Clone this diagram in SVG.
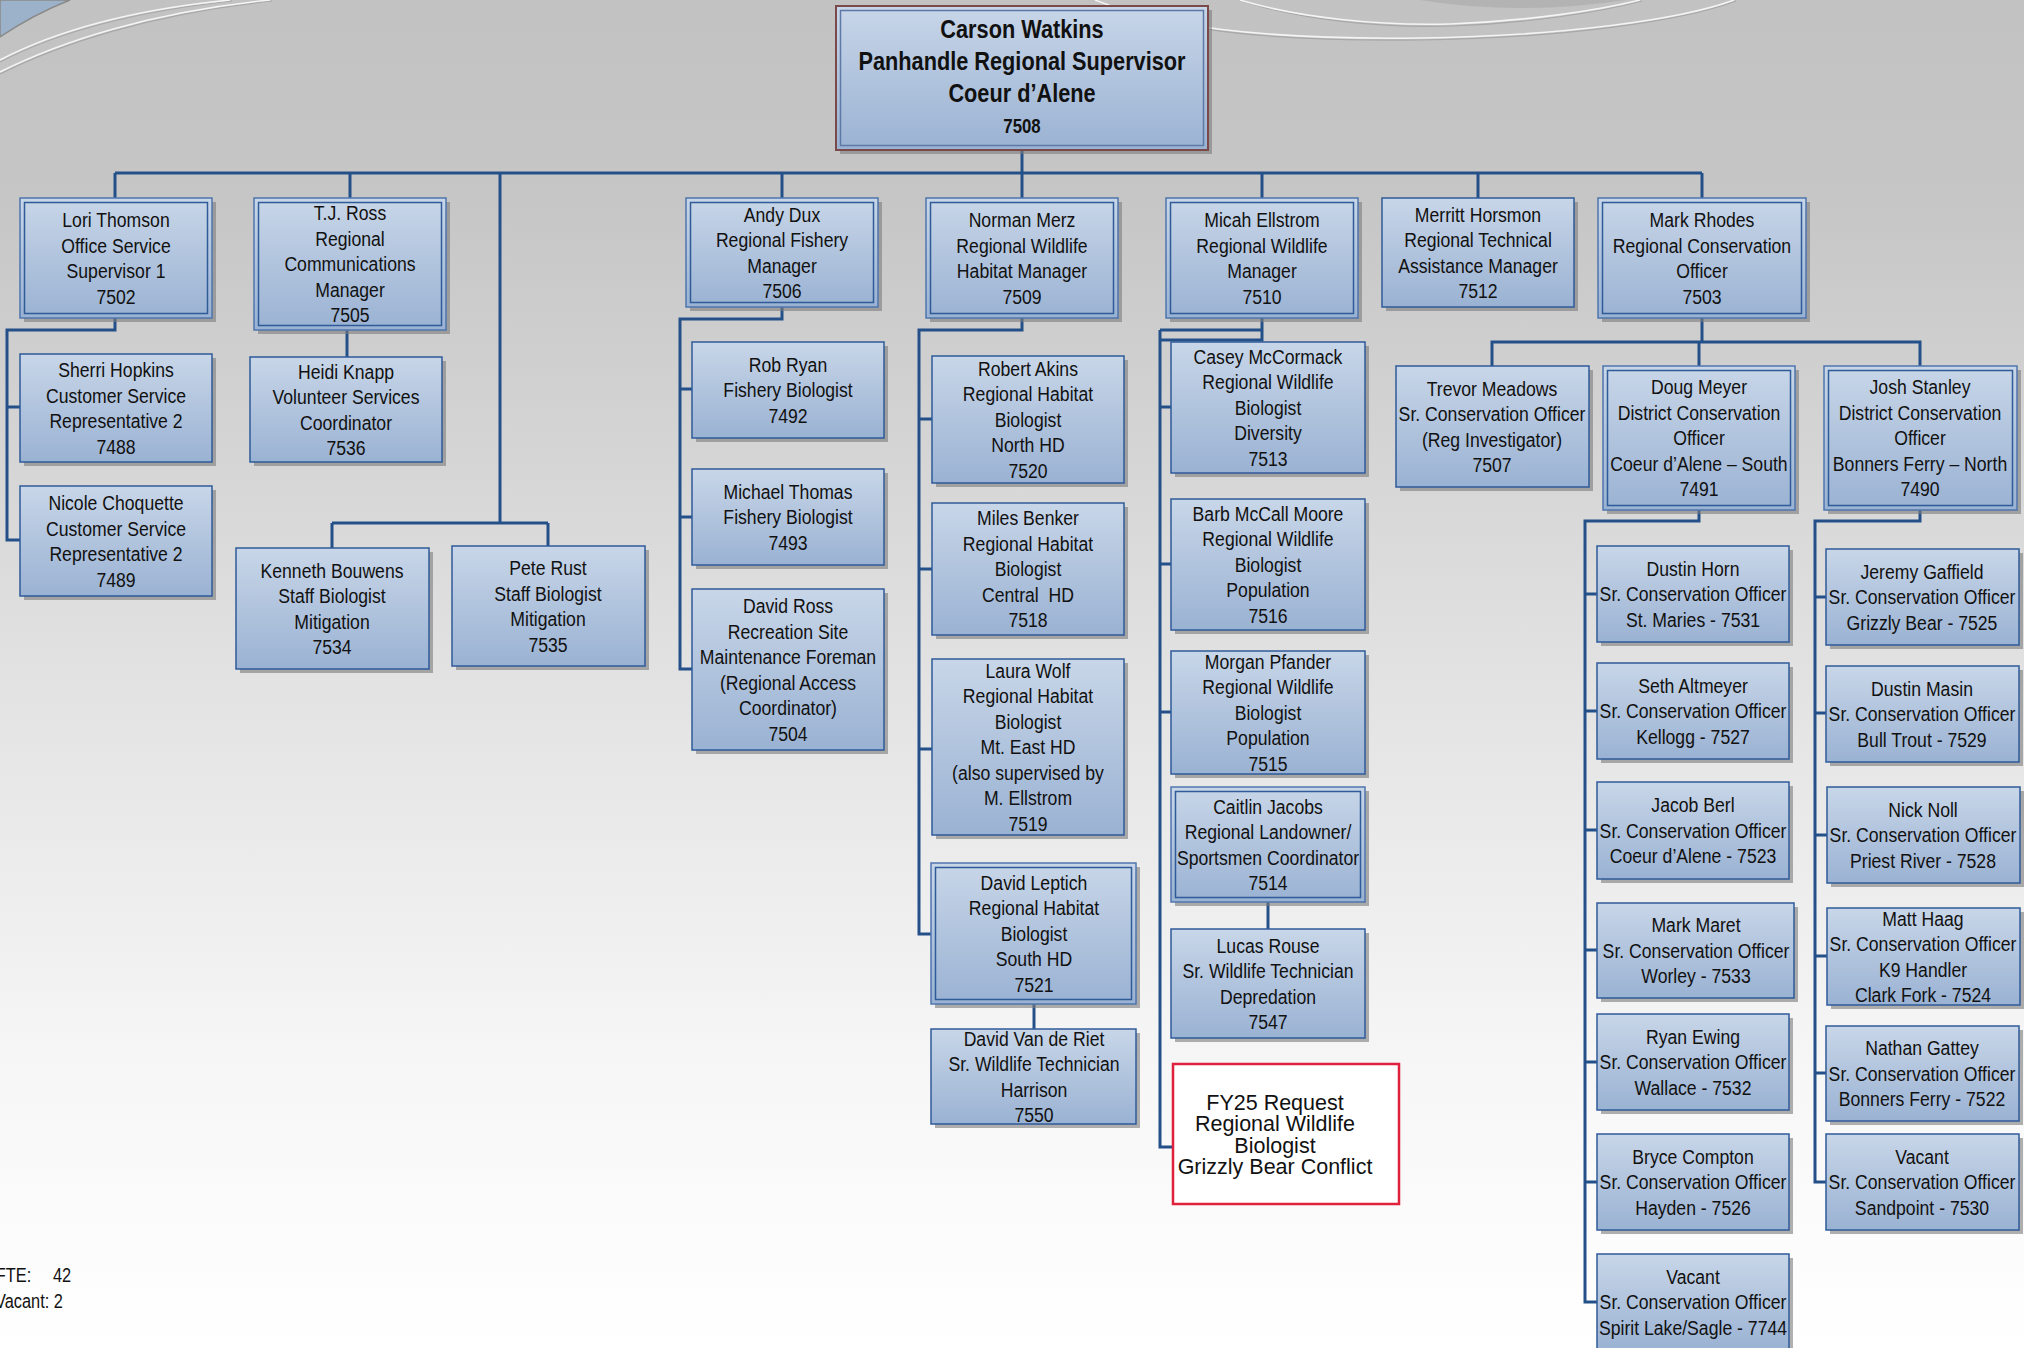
<svg xmlns="http://www.w3.org/2000/svg" width="2024" height="1348" viewBox="0 0 2024 1348">
<defs>
<linearGradient id="bg" x1="0" y1="0" x2="0" y2="1">
<stop offset="0" stop-color="#c2c2c2"/>
<stop offset="0.15" stop-color="#c6c6c6"/>
<stop offset="0.5" stop-color="#e2e2e2"/>
<stop offset="0.8" stop-color="#f7f7f7"/>
<stop offset="1" stop-color="#ffffff"/>
</linearGradient>
<linearGradient id="bf" x1="0" y1="0" x2="0" y2="1">
<stop offset="0" stop-color="#c8d6e8"/>
<stop offset="1" stop-color="#9ab2d3"/>
</linearGradient>
<style>
.sh{fill:#7c7c7c;opacity:.6}
.bx{fill:url(#bf);stroke:#2f5b99;stroke-width:1.5}
.bo{fill:url(#bf);stroke:#4f76ad;stroke-width:1.5}
.bi{fill:none;stroke:#2f5b99;stroke-width:1.5}
.t{font-family:"Liberation Sans",Arial,sans-serif;font-size:21px;text-anchor:middle;fill:#111}
.tb{font-family:"Liberation Sans",Arial,sans-serif;font-weight:bold;text-anchor:middle;fill:#111}
.tr{font-family:"Liberation Sans",Arial,sans-serif;font-size:21.5px;text-anchor:middle;fill:#111}
.c{fill:none;stroke:#24508a;stroke-width:3}
.dec{fill:none;stroke:#f4f4f4;stroke-width:1.6}
.decg{fill:none;stroke:#a8a8a8;stroke-width:1.2}
</style>
</defs>
<rect width="2024" height="1348" fill="url(#bg)"/>
<g id="decor">
<path d="M0,0 H70 Q34,14 0,37 Z" fill="#9cb1ca" stroke="#8a8a8a" stroke-width="1.5"/>
<path class="decg" d="M0,74 C60,44 150,14 272,1"/>
<path class="dec" d="M0,72 C60,42 150,12 270,0"/>
<path class="decg" d="M0,62 C50,36 120,13 232,1"/>
<path class="dec" d="M0,60 C50,34 120,11 230,0"/>
<path class="decg" d="M1097,1 C1160,28 1260,42 1420,40 C1560,38 1680,22 1736,1"/>
<path class="dec" d="M1095,0 C1160,26 1260,40 1420,38 C1560,36 1680,20 1734,0"/>
<path class="decg" d="M1242,1 C1300,20 1380,28 1452,26 C1532,23 1600,12 1642,1"/>
<path class="dec" d="M1240,0 C1300,18 1380,26 1450,24 C1530,21 1600,10 1640,0"/>
<path d="M1420,0 Q1520,16 1626,0 Z" fill="#a9a9a9" opacity=".6"/>
</g>
<g id="connectors">
<path class="c" d="M115,173 H1702"/>
<path class="c" d="M1022,150 V198"/>
<path class="c" d="M115,173 V198 M350,173 V198 M782,173 V198 M1262,173 V198 M1478,173 V198 M1702,173 V198"/>
<path class="c" d="M500,173 V523 M332,523 H548 M332,523 V548 M548,523 V546"/>
<path class="c" d="M115,318 V330 H7 V540 H20 M7,407 H20"/>
<path class="c" d="M347,330 V357"/>
<path class="c" d="M782,307 V319 H680 V669 H692 M680,389 H692 M680,517 H692"/>
<path class="c" d="M1022,318 V330 H919 V934 H931 M919,419 H932 M919,569 H932 M919,749 H932"/>
<path class="c" d="M1034,1004 V1029"/>
<path class="c" d="M1262,318 V340 H1160 M1262,330 H1160 M1160,330 V1147 H1173 M1160,407 H1171 M1160,564 H1171 M1160,712 H1171"/>
<path class="c" d="M1268,902 V929"/>
<path class="c" d="M1702,318 V342 M1492,366 V342 H1920 V366 M1699,342 V366"/>
<path class="c" d="M1699,510 V521 H1585 V1302 H1597 M1585,594 H1597 M1585,711 H1597 M1585,830 H1597 M1585,950 H1597 M1585,1062 H1597 M1585,1182 H1597"/>
<path class="c" d="M1920,510 V521 H1815 V1182 H1826 M1815,597 H1826 M1815,713 H1826 M1815,835 H1827 M1815,956 H1827 M1815,1073 H1826"/>
</g>
<g id="n-carson">
<rect class="sh" x="840" y="10" width="372" height="144"/>
<rect x="836" y="6" width="372" height="144" fill="url(#bf)" stroke="#7a4a4a" stroke-width="2"/>
<rect x="840.5" y="10.5" width="363" height="135" fill="none" stroke="#5d7aa6" stroke-width="1.5"/>
<g transform="translate(1022 0) scale(.82 1)">
<text class="tb" style="font-size:26.5px" x="0" y="38">Carson Watkins</text>
<text class="tb" style="font-size:26.5px" x="0" y="70">Panhandle Regional Supervisor</text>
<text class="tb" style="font-size:26.5px" x="0" y="102">Coeur d’Alene</text>
<text class="tb" style="font-size:20.5px" x="0" y="133">7508</text>
</g>
</g>
<g id="n-lori">
<rect class="sh" x="24" y="202" width="192" height="120"/>
<rect class="bo" x="20" y="198" width="192" height="120"/>
<rect class="bi" x="24.5" y="202.5" width="183" height="111"/>
<text class="t" transform="translate(116 0) scale(.84 1)" y="227.25"><tspan x="0">Lori Thomson</tspan><tspan x="0" dy="25.5">Office Service</tspan><tspan x="0" dy="25.5">Supervisor 1</tspan><tspan x="0" dy="25.5">7502</tspan></text>
</g>
<g id="n-tjross">
<rect class="sh" x="258" y="202" width="192" height="132"/>
<rect class="bo" x="254" y="198" width="192" height="132"/>
<rect class="bi" x="258.5" y="202.5" width="183" height="123"/>
<text class="t" transform="translate(350 0) scale(.84 1)" y="220.5"><tspan x="0">T.J. Ross</tspan><tspan x="0" dy="25.5">Regional</tspan><tspan x="0" dy="25.5">Communications</tspan><tspan x="0" dy="25.5">Manager</tspan><tspan x="0" dy="25.5">7505</tspan></text>
</g>
<g id="n-sherri">
<rect class="sh" x="24" y="358" width="192" height="108"/>
<rect class="bx" x="20" y="354" width="192" height="108"/>
<text class="t" transform="translate(116 0) scale(.84 1)" y="377.25"><tspan x="0">Sherri Hopkins</tspan><tspan x="0" dy="25.5">Customer Service</tspan><tspan x="0" dy="25.5">Representative 2</tspan><tspan x="0" dy="25.5">7488</tspan></text>
</g>
<g id="n-heidi">
<rect class="sh" x="254" y="361" width="192" height="105"/>
<rect class="bx" x="250" y="357" width="192" height="105"/>
<text class="t" transform="translate(346 0) scale(.84 1)" y="378.75"><tspan x="0">Heidi Knapp</tspan><tspan x="0" dy="25.5">Volunteer Services</tspan><tspan x="0" dy="25.5">Coordinator</tspan><tspan x="0" dy="25.5">7536</tspan></text>
</g>
<g id="n-nicole">
<rect class="sh" x="24" y="490" width="192" height="110"/>
<rect class="bx" x="20" y="486" width="192" height="110"/>
<text class="t" transform="translate(116 0) scale(.84 1)" y="510.25"><tspan x="0">Nicole Choquette</tspan><tspan x="0" dy="25.5">Customer Service</tspan><tspan x="0" dy="25.5">Representative 2</tspan><tspan x="0" dy="25.5">7489</tspan></text>
</g>
<g id="n-kenneth">
<rect class="sh" x="240" y="552" width="193" height="121"/>
<rect class="bx" x="236" y="548" width="193" height="121"/>
<text class="t" transform="translate(332 0) scale(.84 1)" y="577.75"><tspan x="0">Kenneth Bouwens</tspan><tspan x="0" dy="25.5">Staff Biologist</tspan><tspan x="0" dy="25.5">Mitigation</tspan><tspan x="0" dy="25.5">7534</tspan></text>
</g>
<g id="n-pete">
<rect class="sh" x="456" y="550" width="193" height="120"/>
<rect class="bx" x="452" y="546" width="193" height="120"/>
<text class="t" transform="translate(548 0) scale(.84 1)" y="575.25"><tspan x="0">Pete Rust</tspan><tspan x="0" dy="25.5">Staff Biologist</tspan><tspan x="0" dy="25.5">Mitigation</tspan><tspan x="0" dy="25.5">7535</tspan></text>
</g>
<g id="n-andy">
<rect class="sh" x="690" y="202" width="192" height="109"/>
<rect class="bo" x="686" y="198" width="192" height="109"/>
<rect class="bi" x="690.5" y="202.5" width="183" height="100"/>
<text class="t" transform="translate(782 0) scale(.84 1)" y="221.75"><tspan x="0">Andy Dux</tspan><tspan x="0" dy="25.5">Regional Fishery</tspan><tspan x="0" dy="25.5">Manager</tspan><tspan x="0" dy="25.5">7506</tspan></text>
</g>
<g id="n-norman">
<rect class="sh" x="930" y="202" width="192" height="120"/>
<rect class="bo" x="926" y="198" width="192" height="120"/>
<rect class="bi" x="930.5" y="202.5" width="183" height="111"/>
<text class="t" transform="translate(1022 0) scale(.84 1)" y="227.25"><tspan x="0">Norman Merz</tspan><tspan x="0" dy="25.5">Regional Wildlife</tspan><tspan x="0" dy="25.5">Habitat Manager</tspan><tspan x="0" dy="25.5">7509</tspan></text>
</g>
<g id="n-micah">
<rect class="sh" x="1170" y="202" width="192" height="120"/>
<rect class="bo" x="1166" y="198" width="192" height="120"/>
<rect class="bi" x="1170.5" y="202.5" width="183" height="111"/>
<text class="t" transform="translate(1262 0) scale(.84 1)" y="227.25"><tspan x="0">Micah Ellstrom</tspan><tspan x="0" dy="25.5">Regional Wildlife</tspan><tspan x="0" dy="25.5">Manager</tspan><tspan x="0" dy="25.5">7510</tspan></text>
</g>
<g id="n-merritt">
<rect class="sh" x="1386" y="202" width="192" height="109"/>
<rect class="bx" x="1382" y="198" width="192" height="109"/>
<text class="t" transform="translate(1478 0) scale(.84 1)" y="221.75"><tspan x="0">Merritt Horsmon</tspan><tspan x="0" dy="25.5">Regional Technical</tspan><tspan x="0" dy="25.5">Assistance Manager</tspan><tspan x="0" dy="25.5">7512</tspan></text>
</g>
<g id="n-mark">
<rect class="sh" x="1602" y="202" width="208" height="120"/>
<rect class="bo" x="1598" y="198" width="208" height="120"/>
<rect class="bi" x="1602.5" y="202.5" width="199" height="111"/>
<text class="t" transform="translate(1702 0) scale(.84 1)" y="227.25"><tspan x="0">Mark Rhodes</tspan><tspan x="0" dy="25.5">Regional Conservation</tspan><tspan x="0" dy="25.5">Officer</tspan><tspan x="0" dy="25.5">7503</tspan></text>
</g>
<g id="n-trevor">
<rect class="sh" x="1400" y="370" width="193" height="121"/>
<rect class="bx" x="1396" y="366" width="193" height="121"/>
<text class="t" transform="translate(1492 0) scale(.84 1)" y="395.75"><tspan x="0">Trevor Meadows</tspan><tspan x="0" dy="25.5">Sr. Conservation Officer</tspan><tspan x="0" dy="25.5">(Reg Investigator)</tspan><tspan x="0" dy="25.5">7507</tspan></text>
</g>
<g id="n-doug">
<rect class="sh" x="1607" y="370" width="192" height="144"/>
<rect class="bo" x="1603" y="366" width="192" height="144"/>
<rect class="bi" x="1607.5" y="370.5" width="183" height="135"/>
<text class="t" transform="translate(1699 0) scale(.84 1)" y="394.5"><tspan x="0">Doug Meyer</tspan><tspan x="0" dy="25.5">District Conservation</tspan><tspan x="0" dy="25.5">Officer</tspan><tspan x="0" dy="25.5">Coeur d’Alene – South</tspan><tspan x="0" dy="25.5">7491</tspan></text>
</g>
<g id="n-josh">
<rect class="sh" x="1828" y="370" width="193" height="144"/>
<rect class="bo" x="1824" y="366" width="193" height="144"/>
<rect class="bi" x="1828.5" y="370.5" width="184" height="135"/>
<text class="t" transform="translate(1920 0) scale(.84 1)" y="394.5"><tspan x="0">Josh Stanley</tspan><tspan x="0" dy="25.5">District Conservation</tspan><tspan x="0" dy="25.5">Officer</tspan><tspan x="0" dy="25.5">Bonners Ferry – North</tspan><tspan x="0" dy="25.5">7490</tspan></text>
</g>
<g id="n-rob">
<rect class="sh" x="696" y="346" width="192" height="96"/>
<rect class="bx" x="692" y="342" width="192" height="96"/>
<text class="t" transform="translate(788 0) scale(.84 1)" y="372"><tspan x="0">Rob Ryan</tspan><tspan x="0" dy="25.5">Fishery Biologist</tspan><tspan x="0" dy="25.5">7492</tspan></text>
</g>
<g id="n-michael">
<rect class="sh" x="696" y="473" width="192" height="96"/>
<rect class="bx" x="692" y="469" width="192" height="96"/>
<text class="t" transform="translate(788 0) scale(.84 1)" y="499"><tspan x="0">Michael Thomas</tspan><tspan x="0" dy="25.5">Fishery Biologist</tspan><tspan x="0" dy="25.5">7493</tspan></text>
</g>
<g id="n-davidross">
<rect class="sh" x="696" y="593" width="192" height="161"/>
<rect class="bx" x="692" y="589" width="192" height="161"/>
<text class="t" transform="translate(788 0) scale(.84 1)" y="613.25"><tspan x="0">David Ross</tspan><tspan x="0" dy="25.5">Recreation Site</tspan><tspan x="0" dy="25.5">Maintenance Foreman</tspan><tspan x="0" dy="25.5">(Regional Access</tspan><tspan x="0" dy="25.5">Coordinator)</tspan><tspan x="0" dy="25.5">7504</tspan></text>
</g>
<g id="n-robert">
<rect class="sh" x="936" y="360" width="192" height="127"/>
<rect class="bx" x="932" y="356" width="192" height="127"/>
<text class="t" transform="translate(1028 0) scale(.84 1)" y="376"><tspan x="0">Robert Akins</tspan><tspan x="0" dy="25.5">Regional Habitat</tspan><tspan x="0" dy="25.5">Biologist</tspan><tspan x="0" dy="25.5">North HD</tspan><tspan x="0" dy="25.5">7520</tspan></text>
</g>
<g id="n-miles">
<rect class="sh" x="936" y="507" width="192" height="132"/>
<rect class="bx" x="932" y="503" width="192" height="132"/>
<text class="t" transform="translate(1028 0) scale(.84 1)" y="525.5"><tspan x="0">Miles Benker</tspan><tspan x="0" dy="25.5">Regional Habitat</tspan><tspan x="0" dy="25.5">Biologist</tspan><tspan x="0" dy="25.5" xml:space="preserve">Central  HD</tspan><tspan x="0" dy="25.5">7518</tspan></text>
</g>
<g id="n-laura">
<rect class="sh" x="936" y="663" width="192" height="176"/>
<rect class="bx" x="932" y="659" width="192" height="176"/>
<text class="t" transform="translate(1028 0) scale(.84 1)" y="678"><tspan x="0">Laura Wolf</tspan><tspan x="0" dy="25.5">Regional Habitat</tspan><tspan x="0" dy="25.5">Biologist</tspan><tspan x="0" dy="25.5">Mt. East HD</tspan><tspan x="0" dy="25.5">(also supervised by</tspan><tspan x="0" dy="25.5">M. Ellstrom</tspan><tspan x="0" dy="25.5">7519</tspan></text>
</g>
<g id="n-leptich">
<rect class="sh" x="935" y="867" width="205" height="141"/>
<rect class="bo" x="931" y="863" width="205" height="141"/>
<rect class="bi" x="935.5" y="867.5" width="196" height="132"/>
<text class="t" transform="translate(1034 0) scale(.84 1)" y="890"><tspan x="0">David Leptich</tspan><tspan x="0" dy="25.5">Regional Habitat</tspan><tspan x="0" dy="25.5">Biologist</tspan><tspan x="0" dy="25.5">South HD</tspan><tspan x="0" dy="25.5">7521</tspan></text>
</g>
<g id="n-vanderiet">
<rect class="sh" x="935" y="1033" width="205" height="95"/>
<rect class="bx" x="931" y="1029" width="205" height="95"/>
<text class="t" transform="translate(1034 0) scale(.84 1)" y="1045.75"><tspan x="0">David Van de Riet</tspan><tspan x="0" dy="25.5">Sr. Wildlife Technician</tspan><tspan x="0" dy="25.5">Harrison</tspan><tspan x="0" dy="25.5">7550</tspan></text>
</g>
<g id="n-casey">
<rect class="sh" x="1175" y="346" width="194" height="131"/>
<rect class="bx" x="1171" y="342" width="194" height="131"/>
<text class="t" transform="translate(1268 0) scale(.84 1)" y="364"><tspan x="0">Casey McCormack</tspan><tspan x="0" dy="25.5">Regional Wildlife</tspan><tspan x="0" dy="25.5">Biologist</tspan><tspan x="0" dy="25.5">Diversity</tspan><tspan x="0" dy="25.5">7513</tspan></text>
</g>
<g id="n-barb">
<rect class="sh" x="1175" y="503" width="194" height="131"/>
<rect class="bx" x="1171" y="499" width="194" height="131"/>
<text class="t" transform="translate(1268 0) scale(.84 1)" y="521"><tspan x="0">Barb McCall Moore</tspan><tspan x="0" dy="25.5">Regional Wildlife</tspan><tspan x="0" dy="25.5">Biologist</tspan><tspan x="0" dy="25.5">Population</tspan><tspan x="0" dy="25.5">7516</tspan></text>
</g>
<g id="n-morgan">
<rect class="sh" x="1175" y="655" width="194" height="123"/>
<rect class="bx" x="1171" y="651" width="194" height="123"/>
<text class="t" transform="translate(1268 0) scale(.84 1)" y="669"><tspan x="0">Morgan Pfander</tspan><tspan x="0" dy="25.5">Regional Wildlife</tspan><tspan x="0" dy="25.5">Biologist</tspan><tspan x="0" dy="25.5">Population</tspan><tspan x="0" dy="25.5">7515</tspan></text>
</g>
<g id="n-caitlin">
<rect class="sh" x="1175" y="791" width="194" height="115"/>
<rect class="bo" x="1171" y="787" width="194" height="115"/>
<rect class="bi" x="1175.5" y="791.5" width="185" height="106"/>
<text class="t" transform="translate(1268 0) scale(.84 1)" y="813.75"><tspan x="0">Caitlin Jacobs</tspan><tspan x="0" dy="25.5">Regional Landowner/</tspan><tspan x="0" dy="25.5">Sportsmen Coordinator</tspan><tspan x="0" dy="25.5">7514</tspan></text>
</g>
<g id="n-lucas">
<rect class="sh" x="1175" y="933" width="194" height="109"/>
<rect class="bx" x="1171" y="929" width="194" height="109"/>
<text class="t" transform="translate(1268 0) scale(.84 1)" y="952.75"><tspan x="0">Lucas Rouse</tspan><tspan x="0" dy="25.5">Sr. Wildlife Technician</tspan><tspan x="0" dy="25.5">Depredation</tspan><tspan x="0" dy="25.5">7547</tspan></text>
</g>
<g id="n-fy25">
<rect x="1173" y="1064" width="226" height="140" fill="#ffffff" stroke="#e0213c" stroke-width="2.5"/>
<text class="tr" y="1110"><tspan x="1275">FY25 Request</tspan><tspan x="1275" dy="21.3">Regional Wildlife</tspan><tspan x="1275" dy="21.3">Biologist</tspan><tspan x="1275" dy="21.3">Grizzly Bear Conflict</tspan></text>
</g>
<g id="n-dustinhorn">
<rect class="sh" x="1601" y="550" width="192" height="96"/>
<rect class="bx" x="1597" y="546" width="192" height="96"/>
<text class="t" transform="translate(1693 0) scale(.84 1)" y="576"><tspan x="0">Dustin Horn</tspan><tspan x="0" dy="25.5">Sr. Conservation Officer</tspan><tspan x="0" dy="25.5">St. Maries - 7531</tspan></text>
</g>
<g id="n-seth">
<rect class="sh" x="1601" y="667" width="192" height="96"/>
<rect class="bx" x="1597" y="663" width="192" height="96"/>
<text class="t" transform="translate(1693 0) scale(.84 1)" y="693"><tspan x="0">Seth Altmeyer</tspan><tspan x="0" dy="25.5">Sr. Conservation Officer</tspan><tspan x="0" dy="25.5">Kellogg - 7527</tspan></text>
</g>
<g id="n-jacob">
<rect class="sh" x="1601" y="786" width="192" height="97"/>
<rect class="bx" x="1597" y="782" width="192" height="97"/>
<text class="t" transform="translate(1693 0) scale(.84 1)" y="812.5"><tspan x="0">Jacob Berl</tspan><tspan x="0" dy="25.5">Sr. Conservation Officer</tspan><tspan x="0" dy="25.5">Coeur d’Alene - 7523</tspan></text>
</g>
<g id="n-markmaret">
<rect class="sh" x="1601" y="907" width="197" height="95"/>
<rect class="bx" x="1597" y="903" width="197" height="95"/>
<text class="t" transform="translate(1696 0) scale(.84 1)" y="932.5"><tspan x="0">Mark Maret</tspan><tspan x="0" dy="25.5">Sr. Conservation Officer</tspan><tspan x="0" dy="25.5">Worley - 7533</tspan></text>
</g>
<g id="n-ryan">
<rect class="sh" x="1601" y="1018" width="192" height="96"/>
<rect class="bx" x="1597" y="1014" width="192" height="96"/>
<text class="t" transform="translate(1693 0) scale(.84 1)" y="1044"><tspan x="0">Ryan Ewing</tspan><tspan x="0" dy="25.5">Sr. Conservation Officer</tspan><tspan x="0" dy="25.5">Wallace - 7532</tspan></text>
</g>
<g id="n-bryce">
<rect class="sh" x="1601" y="1138" width="192" height="96"/>
<rect class="bx" x="1597" y="1134" width="192" height="96"/>
<text class="t" transform="translate(1693 0) scale(.84 1)" y="1164"><tspan x="0">Bryce Compton</tspan><tspan x="0" dy="25.5">Sr. Conservation Officer</tspan><tspan x="0" dy="25.5">Hayden - 7526</tspan></text>
</g>
<g id="n-vacant-spirit">
<rect class="sh" x="1601" y="1258" width="192" height="96"/>
<rect class="bx" x="1597" y="1254" width="192" height="96"/>
<text class="t" transform="translate(1693 0) scale(.84 1)" y="1284"><tspan x="0">Vacant</tspan><tspan x="0" dy="25.5">Sr. Conservation Officer</tspan><tspan x="0" dy="25.5">Spirit Lake/Sagle - 7744</tspan></text>
</g>
<g id="n-jeremy">
<rect class="sh" x="1830" y="553" width="193" height="96"/>
<rect class="bx" x="1826" y="549" width="193" height="96"/>
<text class="t" transform="translate(1922 0) scale(.84 1)" y="579"><tspan x="0">Jeremy Gaffield</tspan><tspan x="0" dy="25.5">Sr. Conservation Officer</tspan><tspan x="0" dy="25.5">Grizzly Bear - 7525</tspan></text>
</g>
<g id="n-dustinmasin">
<rect class="sh" x="1830" y="670" width="193" height="96"/>
<rect class="bx" x="1826" y="666" width="193" height="96"/>
<text class="t" transform="translate(1922 0) scale(.84 1)" y="696"><tspan x="0">Dustin Masin</tspan><tspan x="0" dy="25.5">Sr. Conservation Officer</tspan><tspan x="0" dy="25.5">Bull Trout - 7529</tspan></text>
</g>
<g id="n-nick">
<rect class="sh" x="1831" y="791" width="193" height="96"/>
<rect class="bx" x="1827" y="787" width="193" height="96"/>
<text class="t" transform="translate(1923 0) scale(.84 1)" y="817"><tspan x="0">Nick Noll</tspan><tspan x="0" dy="25.5">Sr. Conservation Officer</tspan><tspan x="0" dy="25.5">Priest River - 7528</tspan></text>
</g>
<g id="n-matt">
<rect class="sh" x="1831" y="912" width="193" height="97"/>
<rect class="bx" x="1827" y="908" width="193" height="97"/>
<text class="t" transform="translate(1923 0) scale(.84 1)" y="925.75"><tspan x="0">Matt Haag</tspan><tspan x="0" dy="25.5">Sr. Conservation Officer</tspan><tspan x="0" dy="25.5">K9 Handler</tspan><tspan x="0" dy="25.5">Clark Fork - 7524</tspan></text>
</g>
<g id="n-nathan">
<rect class="sh" x="1830" y="1030" width="193" height="95"/>
<rect class="bx" x="1826" y="1026" width="193" height="95"/>
<text class="t" transform="translate(1922 0) scale(.84 1)" y="1055.5"><tspan x="0">Nathan Gattey</tspan><tspan x="0" dy="25.5">Sr. Conservation Officer</tspan><tspan x="0" dy="25.5">Bonners Ferry - 7522</tspan></text>
</g>
<g id="n-vacant-sandpoint">
<rect class="sh" x="1830" y="1138" width="193" height="96"/>
<rect class="bx" x="1826" y="1134" width="193" height="96"/>
<text class="t" transform="translate(1922 0) scale(.84 1)" y="1164"><tspan x="0">Vacant</tspan><tspan x="0" dy="25.5">Sr. Conservation Officer</tspan><tspan x="0" dy="25.5">Sandpoint - 7530</tspan></text>
</g>
<g id="fte" transform="scale(.84 1)">
<text class="t" style="font-size:19.5px;text-anchor:start" x="-5" y="1282">FTE:</text>
<text class="t" style="font-size:19.5px;text-anchor:start" x="63" y="1282">42</text>
<text class="t" style="font-size:19.5px;text-anchor:start" x="-6" y="1308">Vacant: 2</text>
</g>
</svg>
